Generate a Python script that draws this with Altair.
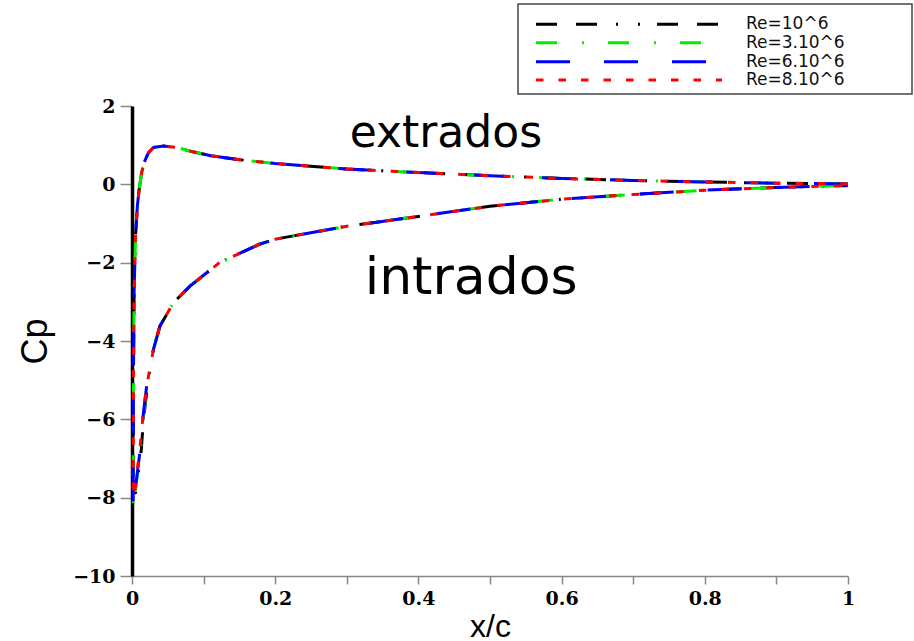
import altair as alt
import pandas as pd

# Pressure coefficient along the chord for four Reynolds numbers.
# Upper surface listed from trailing edge to leading edge,
# lower surface from leading edge back to trailing edge.
series_names = ["Re=10^6", "Re=3.10^6", "Re=6.10^6", "Re=8.10^6"]
series_colors = ["#000000", "#00ee00", "#0000ff", "#ff0000"]
series_dashes = [[21, 19, 21, 19, 2, 20, 2, 17], [21, 25, 2, 24], [34, 34], [7.5, 15]]

x_upper = [1.0, 0.9, 0.8, 0.7, 0.6, 0.5, 0.4, 0.3, 0.2, 0.15, 0.11, 0.085,
           0.063, 0.044, 0.030, 0.023, 0.017, 0.0135, 0.010, 0.0075, 0.005,
           0.003, 0.0022, 0.0018]
cp_upper = [0.01, 0.03, 0.06, 0.10, 0.15, 0.22, 0.30, 0.39, 0.53, 0.63, 0.73,
            0.83, 0.94, 0.98, 0.94, 0.81, 0.56, 0.30, -0.13, -0.55, -1.3,
            -2.7, -4.5, -6.5]

# leading-edge part of the lower surface differs slightly between runs
le_cp = [-7.87, -7.28, -6.77, -6.26, -5.83, -5.15]
le_x = {
    "Re=10^6":   [0.0050, 0.0095, 0.0130, 0.0150, 0.0172, 0.0215],
    "Re=3.10^6": [0.0040, 0.0085, 0.0120, 0.0140, 0.0165, 0.0210],
    "Re=6.10^6": [0.0040, 0.0080, 0.0115, 0.0137, 0.0160, 0.0205],
    "Re=8.10^6": [0.0038, 0.0075, 0.0110, 0.0135, 0.0158, 0.0205],
}
cp_min = {"Re=10^6": -7.9, "Re=3.10^6": -8.3, "Re=6.10^6": -8.35, "Re=8.10^6": -8.0}

x_lower = [0.030, 0.039, 0.058, 0.081, 0.122, 0.178, 0.2, 0.3, 0.4, 0.5, 0.6,
           0.7, 0.8, 0.9, 1.0]
cp_lower = [-4.21, -3.62, -3.02, -2.6, -2.0, -1.53, -1.4, -1.07, -0.82, -0.56,
            -0.38, -0.26, -0.15, -0.08, -0.03]

# annotation labels placed in data coordinates
notes = pd.DataFrame({
    "label": ["extrados", "intrados"],
    "x": [0.304, 0.325],
    "y": [0.95, -2.81],
    "size": [44, 52],
})


def curve(name):
    xs = x_upper + [0.0016] + le_x[name] + x_lower
    cps = cp_upper + [cp_min[name]] + le_cp + cp_lower
    return pd.DataFrame({"x": xs, "cp": cps, "idx": range(len(xs))})


x_enc = alt.X(
    "x:Q",
    scale=alt.Scale(domain=[0, 1], nice=False),
    axis=alt.Axis(
        values=[i / 10 for i in range(11)],
        labelExpr="round(datum.value*10) % 2 == 0 ? format(datum.value, '~g') : ''",
        title="x/c", titleY=60,
        labelPadding=5, tickSize=8, domainColor="#888", grid=False,
    ),
)
y_enc = alt.Y(
    "cp:Q",
    scale=alt.Scale(domain=[-10, 2], nice=False),
    axis=alt.Axis(
        values=list(range(-10, 3)),
        labelExpr="datum.value % 2 == 0 ? format(datum.value, '~g') : ''",
        title="Cp", titleX=-97,
        labelPadding=5, tickSize=12, domainColor="#000", domainWidth=3.5,
        grid=False,
    ),
)

layers = []
for name, col, dash in zip(series_names, series_colors, series_dashes):
    layers.append(
        alt.Chart(curve(name)).mark_line(
            color=col, strokeDash=dash, strokeWidth=3, clip=False
        ).encode(x=x_enc, y=y_enc, order="idx:Q")
    )

layers.append(
    alt.Chart(notes).mark_text(
        align="left", baseline="alphabetic", font="DejaVu Sans", color="#000"
    ).encode(x="x:Q", y="cp:Q", text="label:N",
             size=alt.Size("size:Q", scale=None, legend=None))
    .transform_calculate(cp="datum.y")
)

# legend box, drawn above and to the right of the plot area
box = alt.Chart(alt.Data(values=[{"k": 1}])).mark_rect(
    fill="white", stroke="#444", strokeWidth=1.5
).encode(x=alt.value(386), x2=alt.value(780), y=alt.value(-102), y2=alt.value(-12))
layers.append(box)

row_y = [-81.7, -63.3, -44.3, -26.0]
for name, col, dash, ry in zip(series_names, series_colors, series_dashes, row_y):
    layers.append(
        alt.Chart(alt.Data(values=[{"name": name}])).mark_rule(
            color=col, strokeDash=dash, strokeWidth=3
        ).encode(x=alt.value(404), x2=alt.value(590), y=alt.value(ry))
    )
    layers.append(
        alt.Chart(alt.Data(values=[{"name": name}])).mark_text(
            align="left", baseline="middle", font="DejaVu Sans", fontSize=17,
            color="#111"
        ).encode(x=alt.value(614), y=alt.value(ry), text="name:N")
    )

chart = alt.layer(*layers).properties(
    width=716, height=470,
    autosize=alt.AutoSizeParams(type="none"),
    padding={"left": 132, "top": 106, "right": 66, "bottom": 65},
    background="white",
).configure_view(stroke=None).configure_axis(
    labelFont="DejaVu Serif", labelFontSize=19, labelFontWeight="bold",
    labelColor="#000", labelFlush=False, tickColor="#888", tickWidth=1.5,
    domainWidth=1.5, titleFont="Liberation Sans", titleFontWeight="normal",
    titleColor="#000",
).configure_axisX(
    domainColor="#888", titleFontSize=32, titleBaseline="alphabetic",
).configure_axisY(
    domainColor="#000", domainWidth=3.5, titleFontSize=36,
    titleBaseline="middle", titleAlign="center",
)

chart.save("out.html", embed_options={"renderer": "svg", "actions": False})
